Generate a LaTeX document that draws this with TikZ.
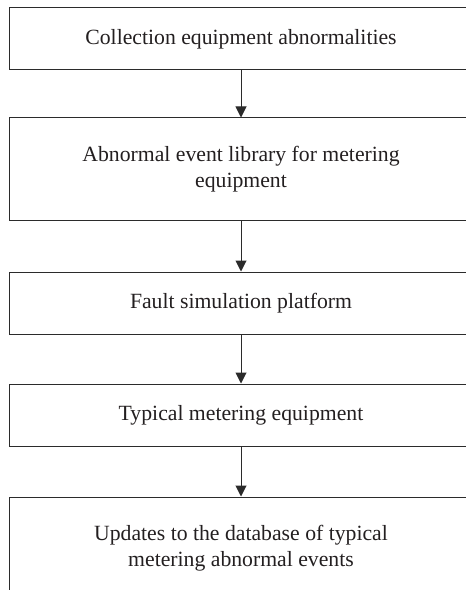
\documentclass[tikz,border=0pt]{standalone}
\usepackage{fontspec}
\setmainfont{Liberation Serif}
\usetikzlibrary{arrows.meta}
\definecolor{ink}{HTML}{231F20}
\definecolor{edge}{HTML}{2B2B2B}
\tikzset{
  box/.style={draw=edge, line width=1bp, minimum width=463bp, align=center,
    text=ink, font=\fontsize{21.8}{25.5}\selectfont, inner sep=0pt},
  short/.style={box, minimum height=62bp},
  tall/.style={box, minimum height=102bp},
  arr/.style={draw=edge, line width=1bp, -{Triangle[width=11bp,length=11bp]}}
}
\begin{document}
\begin{tikzpicture}[x=1bp,y=-1bp]
\useasboundingbox (0,0) rectangle (466,590);
\clip (0,0) rectangle (466,590);
\node[short] (b1) at (241,39) {Collection equipment abnormalities};
\node[tall]  (b2) at (241,169) {Abnormal event library for metering\\equipment};
\node[short] (b3) at (241,303) {Fault simulation platform};
\node[short] (b4) at (241,415) {Typical metering equipment};
\node[tall]  (b5) at (241,548) {Updates to the database of typical\\metering abnormal events};
\draw[arr] (b1.south) -- (b2.north);
\draw[arr] (b2.south) -- (b3.north);
\draw[arr] (b3.south) -- (b4.north);
\draw[arr] (b4.south) -- (b5.north);
\end{tikzpicture}
\end{document}
